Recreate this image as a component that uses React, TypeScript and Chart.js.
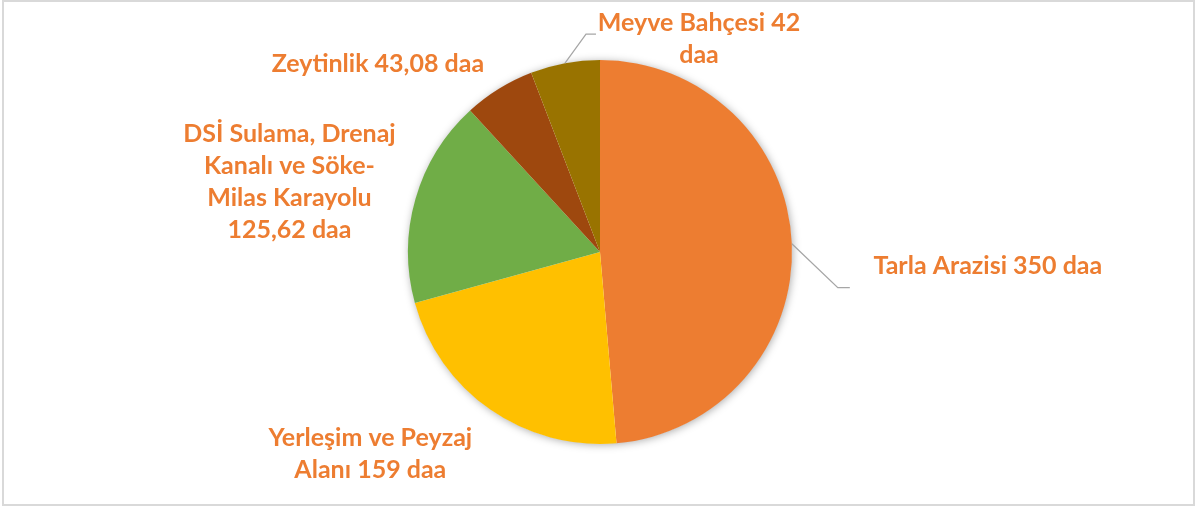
import React, { useEffect, useRef } from "react";
import { Chart, registerables } from "chart.js";

Chart.register(...registerables);

const categories = ["Tarla Arazisi", "Yerleşim ve Peyzaj Alanı", "DSİ Sulama, Drenaj Kanalı ve Söke-Milas Karayolu", "Zeytinlik", "Meyve Bahçesi"];
const values = [350, 159, 125.62, 43.08, 42];
const labelTexts = [
  "Tarla Arazisi 350 daa",
  "Yerleşim ve Peyzaj\nAlanı 159 daa",
  "DSİ Sulama, Drenaj\nKanalı ve Söke-\nMilas Karayolu\n125,62 daa",
  "Zeytinlik 43,08 daa",
  "Meyve Bahçesi 42\ndaa",
];
const colors = ["#ED7D31", "#FFC000", "#70AD47", "#9E480E", "#997300"];

// label layout: offset of label block centre from arc outer mid point
const labelOffsets = [
  { dx: 196, dy: 22 },
  { dx: -120, dy: 44 },
  { dx: -126, dy: -17 },
  { dx: -121, dy: -25 },
  { dx: 134, dy: -24 },
];
// leader lines: elbow offset from arc point, stub length (null = none)
const leaders: ({ ex: number; ey: number; stub: number } | null)[] = [
  { ex: 46, ey: 44, stub: 12 },
  null,
  null,
  null,
  { ex: 21, ey: -29, stub: 10 },
];

const FONT = "bold 25px Lato";
const LINE_H = 32;
const LABEL_COLOR = "#ED7D31";

const decorPlugin = {
  id: "decor",
  beforeDraw(chart: any) {
    const ctx = chart.ctx;
    ctx.save();
    ctx.fillStyle = "#FFFFFF";
    ctx.fillRect(0, 0, chart.width, chart.height);
    ctx.strokeStyle = "#D9D9D9";
    ctx.lineWidth = 2;
    ctx.strokeRect(3, 1, 1191, 504);
    ctx.restore();
  },
  beforeDatasetsDraw(chart: any) {
    const meta = chart.getDatasetMeta(0);
    const a = meta.data[0];
    if (!a) return;
    const ctx = chart.ctx;
    ctx.save();
    ctx.shadowColor = "rgba(0,0,0,0.35)";
    ctx.shadowBlur = 9;
    ctx.shadowOffsetX = 1;
    ctx.shadowOffsetY = 1;
    ctx.fillStyle = "#FFFFFF";
    ctx.beginPath();
    ctx.arc(a.x, a.y, a.outerRadius - 0.5, 0, Math.PI * 2);
    ctx.fill();
    ctx.restore();
  },
  afterDatasetsDraw(chart: any) {
    const ctx = chart.ctx;
    const meta = chart.getDatasetMeta(0);
    meta.data.forEach((arc: any, i: number) => {
      const mid = (arc.startAngle + arc.endAngle) / 2;
      const px = arc.x + Math.cos(mid) * arc.outerRadius;
      const py = arc.y + Math.sin(mid) * arc.outerRadius;
      const ld = leaders[i];
      ctx.save();
      if (ld) {
        ctx.strokeStyle = "#A6A6A6";
        ctx.lineWidth = 1.25;
        ctx.beginPath();
        ctx.moveTo(px, py);
        ctx.lineTo(px + ld.ex, py + ld.ey);
        ctx.lineTo(px + ld.ex + ld.stub, py + ld.ey);
        ctx.stroke();
      }
      const lines = labelTexts[i].split("\n");
      const cx = px + labelOffsets[i].dx;
      const cy = py + labelOffsets[i].dy;
      ctx.font = FONT;
      ctx.fillStyle = LABEL_COLOR;
      ctx.textAlign = "center";
      ctx.textBaseline = "middle";
      const top = cy - ((lines.length - 1) * LINE_H) / 2;
      lines.forEach((ln, k) => ctx.fillText(ln, cx, top + k * LINE_H));
      ctx.restore();
    });
  },
};

export default function App() {
  const ref = useRef<HTMLCanvasElement | null>(null);
  useEffect(() => {
    document.body.style.margin = "0";
    if (!ref.current) return;
    const chart = new Chart(ref.current, {
      type: "pie",
      data: {
        labels: categories,
        datasets: [
          {
            data: values,
            backgroundColor: colors,
            borderWidth: 0,
            hoverOffset: 0,
          },
        ],
      },
      options: {
        responsive: false,
        animation: false,
        layout: { padding: { top: 60, bottom: 64, left: 2, right: 0 } },
        plugins: {
          legend: { display: false },
          tooltip: { enabled: false },
        },
      },
      plugins: [decorPlugin],
    });
    return () => chart.destroy();
  }, []);
  return (
    <div style={{ position: "fixed", left: 0, top: 0, width: 1198, height: 508 }}>
      <canvas ref={ref} width={1198} height={508} />
    </div>
  );
}
